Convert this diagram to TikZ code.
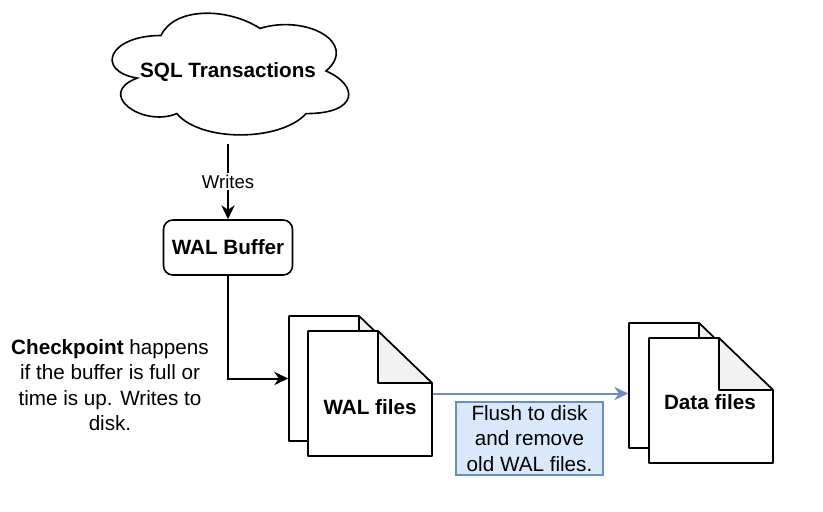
\documentclass[tikz,border=0pt]{standalone}
\usepackage{fontspec}
\setmainfont{Liberation Sans}
\usetikzlibrary{arrows.meta}
\definecolor{flushfill}{HTML}{DAE8FC}
\definecolor{flushline}{HTML}{6C8EBF}
\definecolor{foldgray}{HTML}{F2F2F2}
\begin{document}
\begin{tikzpicture}[x=0.75pt,y=-0.75pt,line width=1.2pt,
  txt/.style={font=\fontsize{15.5}{19}\selectfont},
  page/.style={fill=white,draw=black,line join=round},
  fold/.style={fill=foldgray,draw=black,line join=round},
  tip/.style={line width=1.5pt,-{Stealth[length=10.5pt,width=10pt,inset=3.5pt]}}]
\useasboundingbox (0,0) rectangle (823,511);
%cloud
\begin{scope}[shift={(95,0)},x=198pt,y=-106.5pt]
\draw[fill=white] (0.25,0.25) .. controls (0.05,0.25) and (0,0.5) .. (0.16,0.55)
  .. controls (0,0.66) and (0.18,0.9) .. (0.31,0.8)
  .. controls (0.4,1) and (0.7,1) .. (0.8,0.8)
  .. controls (1,0.8) and (1,0.6) .. (0.875,0.5)
  .. controls (1,0.3) and (0.8,0.1) .. (0.625,0.2)
  .. controls (0.5,0.05) and (0.3,0.05) .. cycle;
\end{scope}
\node (sql) [txt,minimum width=198pt,minimum height=106.5pt] at (228,72) {\textbf{SQL Transactions}};
\node (buf) [txt,draw,rounded corners=7pt,minimum width=96.75pt,minimum height=41.25pt] at (228,247.5) {\textbf{WAL Buffer}};
%WAL files
\begin{scope}[shift={(308,331)}]
\draw[page] (-19,-15) -- (51,-15) -- (105,37) -- (105,110) -- (-19,110) -- cycle;
\draw[fold] (51,-15) -- (51,37) -- (105,37) -- cycle;
\draw[page] (0,0) -- (70,0) -- (124,52) -- (124,125) -- (0,125) -- cycle;
\draw[fold] (70,0) -- (70,52) -- (124,52) -- cycle;
\end{scope}
\node (walback) [minimum width=93pt,minimum height=93.75pt] at (351,378.5) {};
\node (walfront) [minimum width=93pt,minimum height=93.75pt] at (370,393.5) {};
\node (walname) [txt] at (370,407) {\textbf{WAL files}};
%Data files
\begin{scope}[shift={(649,338)}]
\draw[page] (-20,-15) -- (50,-15) -- (104,37) -- (104,110) -- (-20,110) -- cycle;
\draw[fold] (50,-15) -- (50,37) -- (104,37) -- cycle;
\draw[page] (0,0) -- (70,0) -- (124,52) -- (124,125) -- (0,125) -- cycle;
\draw[fold] (70,0) -- (70,52) -- (124,52) -- cycle;
\end{scope}
\node (databack) [minimum width=93pt,minimum height=93.75pt] at (691,385.5) {};
\node (dataname) [txt] at (710,402) {\textbf{Data files}};
%connectors
\draw[tip] (sql.south) -- node (writes) [fill=white,inner sep=1.5pt,font=\fontsize{13.9}{16}\selectfont] {Writes} (buf.north);
\draw[tip] (buf.south) |- (walback.west);
\draw[tip,draw=flushline,fill=flushline] (walfront.east) -- (walfront.east -| databack.west);
\node (chk) [txt,align=center] at (110,385) {\textbf{Checkpoint} happens\\if the buffer is full or\\time is up. Writes to\\disk.};
\node (flush) [txt,align=center,fill=flushfill,draw=flushline,minimum width=110.25pt,minimum height=54.75pt,inner sep=0pt] at (529.5,438.5) {Flush to disk\\and remove\\old WAL files.};
\end{tikzpicture}
\end{document}
